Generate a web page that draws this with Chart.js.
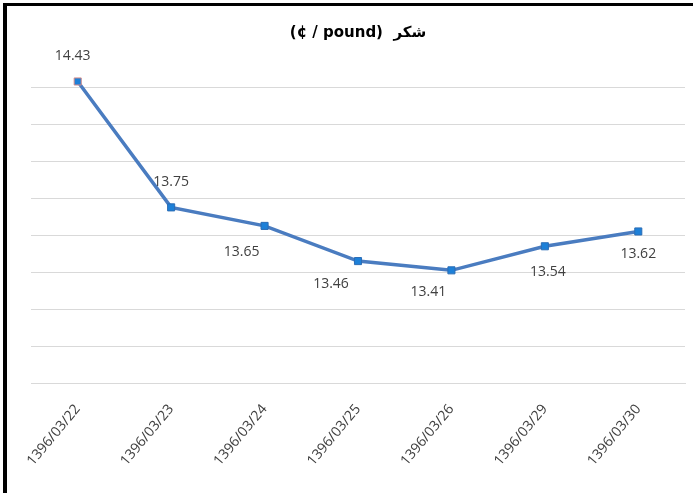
<!DOCTYPE html>
<html>
<head>
<meta charset="utf-8">
<script src="https://cdn.jsdelivr.net/npm/chart.js@4/dist/chart.umd.min.js"></script>
<style>
  html, body { margin: 0; padding: 0; background: #fff; }
  #wrap { position: relative; width: 693px; height: 493px; }
  #sugar-chart { display: block; }
  .edge-top { position: absolute; left: 3px; top: 3px; width: 690px; height: 3px; background: #000; }
  .edge-left { position: absolute; left: 3px; top: 3px; width: 4px; height: 490px; background: #000; }
</style>
</head>
<body>
<div id="wrap">
  <canvas id="sugar-chart" width="693" height="493"></canvas>
  <div class="edge-top"></div>
  <div class="edge-left"></div>
</div>
<script>
  // chart data
  const dates = ["1396/03/22", "1396/03/23", "1396/03/24", "1396/03/25", "1396/03/26", "1396/03/29", "1396/03/30"];
  const prices = [14.43, 13.75, 13.65, 13.46, 13.41, 13.54, 13.62];
  const yTicks = [12.8, 13.0, 13.2, 13.4, 13.6, 13.8, 14.0, 14.2, 14.4];
  const yMin = 12.8;
  const yMax = 14.6;

  // where each value label sits relative to its point (dx, dy)
  const labelOffsets = [[-5, -25], [0, -25], [-23, 26], [-27, 23], [-23, 22], [3, 26], [0, 23]];

  // simple value labels, no datalabels plugin available
  const valueLabels = {
    id: "valueLabels",
    afterDatasetsDraw(chart) {
      const ctx = chart.ctx;
      const meta = chart.getDatasetMeta(0);
      ctx.save();
      ctx.font = "14px 'Open Sans', sans-serif";
      ctx.fillStyle = "#404040";
      ctx.textAlign = "center";
      ctx.textBaseline = "middle";
      meta.data.forEach((pt, i) => {
        const off = labelOffsets[i];
        ctx.fillText(prices[i].toFixed(2), pt.x + off[0], pt.y + off[1]);
      });
      ctx.restore();
    }
  };

  const whiteBg = {
    id: "whiteBg",
    beforeDraw(chart) {
      const ctx = chart.ctx;
      ctx.save();
      ctx.fillStyle = "#fff";
      ctx.fillRect(0, 0, chart.width, chart.height);
      ctx.restore();
    }
  };

  new Chart(document.getElementById("sugar-chart"), {
    type: "line",
    data: {
      labels: dates,
      datasets: [
        {
          label: "شکر",
          data: prices,
          borderColor: "#4a7cc0",
          borderWidth: 3.5,
          pointStyle: "rect",
          pointRadius: 5,
          pointBackgroundColor: "#1d80d8",
          pointBorderColor: ["#d08a8a", "#2b6cb5", "#2b6cb5", "#2b6cb5", "#2b6cb5", "#2b6cb5", "#2b6cb5"],
          pointBorderWidth: 1,
          tension: 0,
        },
      ],
    },
    options: {
      responsive: false,
      animation: false,
      layout: { padding: { left: 31, right: 8, top: 6, bottom: 14 } },
      plugins: {
        legend: { display: false },
        tooltip: { enabled: false },
        title: {
          display: true,
          text: "(¢ / pound)  شکر",
          color: "#000",
          font: { family: "'DejaVu Sans', sans-serif", size: 15, weight: "bold" },
          padding: { top: 18, bottom: 8 },
        },
      },
      scales: {
        x: {
          offset: true,
          grid: { display: false },
          border: { display: true, color: "#d9d9d9", width: 1 },
          ticks: {
            color: "#404040",
            font: { family: "'Open Sans', sans-serif", size: 14 },
            minRotation: 50,
            maxRotation: 50,
            padding: 10,
          },
        },
        y: {
          min: yMin,
          max: yMax,
          afterBuildTicks(axis) {
            axis.ticks = yTicks.map((v) => ({ value: v }));
          },
          grid: { color: "#d9d9d9", lineWidth: 1, drawTicks: false },
          border: { display: false },
          ticks: { display: false },
        },
      },
    },
    plugins: [whiteBg, valueLabels],
  });
</script>
</body>
</html>
